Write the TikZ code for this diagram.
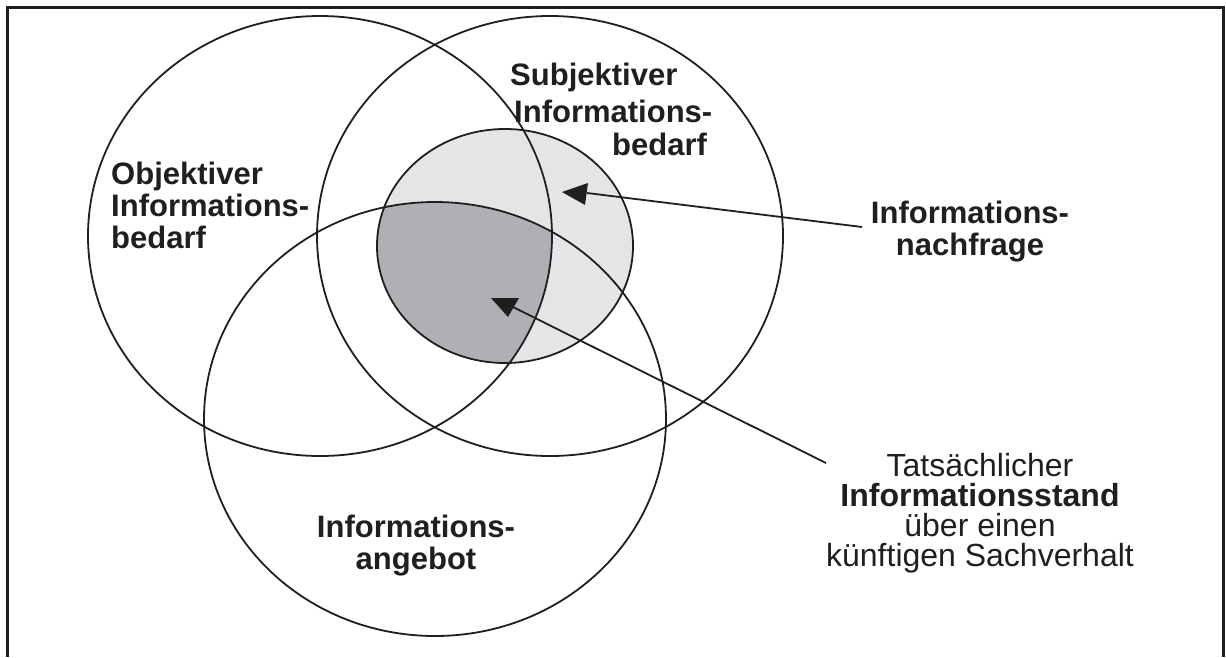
\documentclass[tikz,border=0pt]{standalone}
\usepackage{fontspec}
\setmainfont{Liberation Sans}
\begin{document}
\begin{tikzpicture}[x=1pt,y=-1pt,
  ring/.style={draw=black!88, line width=1.8pt},
  pointer/.style={draw=black!88, line width=1.8pt},
  headtri/.style={fill=black!88, draw=none},
  boldlabel/.style={font=\fontsize{31}{32}\selectfont\bfseries, text=black!88, inner sep=0pt},
  plainlabel/.style={font=\fontsize{32}{30}\selectfont, text=black!88, inner sep=0pt, align=center},
]
\definecolor{lightshade}{RGB}{229,228,231}
\definecolor{darkshade}{RGB}{176,175,180}
\useasboundingbox (0,0) rectangle (1226,657);

% shaded information circle
\fill[lightshade] (505,246) ellipse [x radius=128, y radius=117];
\begin{scope}
  \clip (505,246) ellipse [x radius=128, y radius=117];
  \clip (435,419) ellipse [x radius=231, y radius=217];
  \clip (320,236) ellipse [x radius=232, y radius=220];
  \fill[darkshade] (0,0) rectangle (1226,657);
\end{scope}

% the three large sets
\draw[ring] (320,236) ellipse [x radius=232, y radius=220];
\draw[ring] (550,236) ellipse [x radius=233, y radius=220];
\draw[ring] (435,419) ellipse [x radius=231, y radius=217];
\draw[ring] (505,246) ellipse [x radius=128, y radius=117];

% open frame
\draw[line width=3pt, black!88] (7,657) -- (7,7) -- (1223,7) -- (1223,657);

% labels
\node[boldlabel, align=left, anchor=west] (obj) at (111,205) {Objektiver\\Informations-\\bedarf};
\node[boldlabel, anchor=west] (subjA) at (510,77) {Subjektiver};
\node[boldlabel, anchor=west] (subjB) at (514,111) {Informations-};
\node[boldlabel, anchor=west] (subjC) at (612,144) {bedarf};
\node[boldlabel, align=center] (nach) at (970,232) {Informations-\\nachfrage};
\node[boldlabel, align=center] (angebot) at (416,546) {Informations-\\angebot};
\node[plainlabel] (stand) at (980,513) {Tatsächlicher\\\textbf{Informationsstand}\\über einen\\künftigen Sachverhalt};

% pointers
\coordinate (nachEnd) at (862,227);
\coordinate (nachTip) at (587,193);
\coordinate (standEnd) at (826,463);
\coordinate (standTip) at (513,307);
\draw[pointer] (nachEnd) -- (nachTip);
\draw[pointer] (standEnd) -- (standTip);
\fill[headtri] (562,192) -- (588,183) -- (585,205) -- cycle;
\fill[headtri] (491,298) -- (519,298) -- (508,317) -- cycle;
\end{tikzpicture}
\end{document}
